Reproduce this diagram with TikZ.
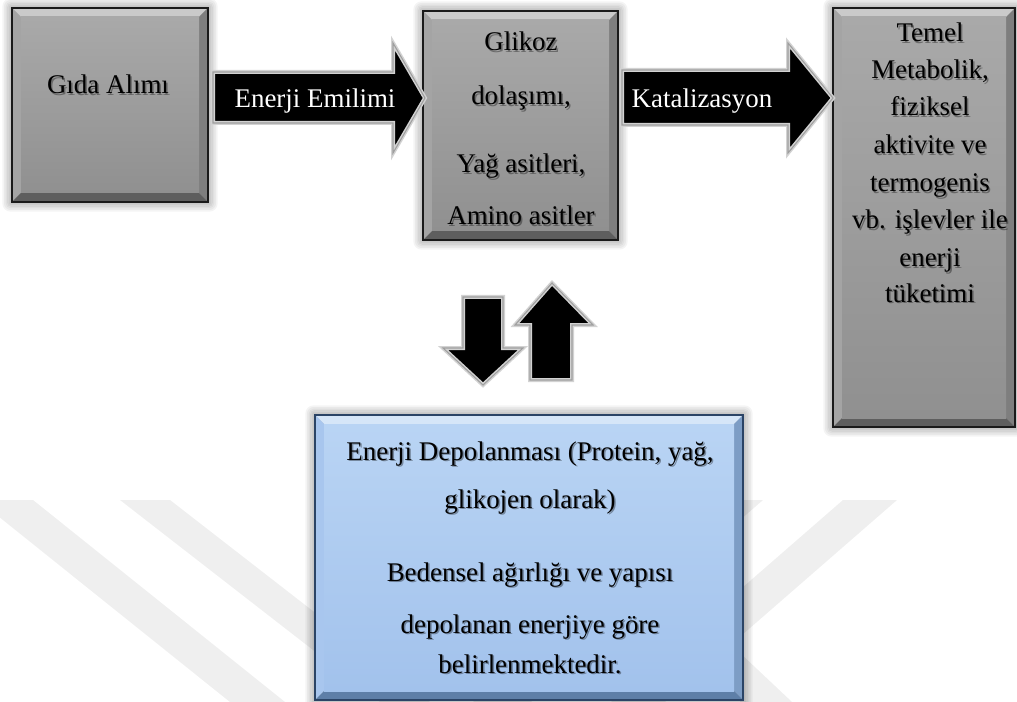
\documentclass[tikz,border=0pt]{standalone}
\usepackage{fontspec}
\setmainfont{Liberation Serif}
\usetikzlibrary{calc}
\definecolor{wm}{HTML}{EFEFEF}
% gray box colours
\definecolor{gtop}{HTML}{A9A9A9}\definecolor{gbot}{HTML}{909090}
\definecolor{glt}{HTML}{CACACA}\definecolor{glf}{HTML}{A4A4A4}
\definecolor{grt}{HTML}{7E7E7E}\definecolor{gdk}{HTML}{5E5E5E}
\definecolor{gbd}{HTML}{1A1A1A}
% blue box colours
\definecolor{btop}{HTML}{B9D4F4}\definecolor{bbot}{HTML}{A2C2EC}
\definecolor{blt}{HTML}{D6E6F8}\definecolor{blf}{HTML}{A8C6EE}
\definecolor{brt}{HTML}{7D9DC5}\definecolor{bdk}{HTML}{5E7FA8}
\definecolor{bbd}{HTML}{2B4466}
\newcommand\bevbox[5]{%
  \foreach \k in {1,...,6}{%
    \fill[black,opacity=0.045,rounded corners=\k pt] ({#1-1.6*\k},{#2-1.6*\k}) rectangle ({#3+1.6*\k},{#4+1.6*\k});}
  \fill[#5lt] (#1,#2) -- (#3,#2) -- ({#3-9},{#2+9}) -- ({#1+9},{#2+9}) -- cycle;
  \fill[#5lf] (#1,#2) -- ({#1+9},{#2+9}) -- ({#1+9},{#4-9}) -- (#1,#4) -- cycle;
  \fill[#5rt] (#3,#2) -- (#3,#4) -- ({#3-9},{#4-9}) -- ({#3-9},{#2+9}) -- cycle;
  \fill[#5dk] (#1,#4) -- (#3,#4) -- ({#3-9},{#4-9}) -- ({#1+9},{#4-9}) -- cycle;
  \shade[top color=#5top,bottom color=#5bot] ({#1+9},{#2+9}) rectangle ({#3-9},{#4-9});
  \draw[#5bd,line width=1.6pt] (#1,#2) rectangle (#3,#4);
}
\tikzset{
  lbl/.style={font=\fontsize{20.2}{24}\selectfont,inner sep=0pt,anchor=base},
  wlbl/.style={lbl,text=white},
  shlbl/.style={lbl,text=black,opacity=0.35},
  blockarrow/.style={fill=black,draw=gray!35,line width=3pt,line join=miter},
  arrowedge/.style={draw=gray!75,line width=0.8pt,line join=miter},
}
% text with a soft shadow: name, x, y, text
\newcommand\tx[4]{%
  \node[shlbl] (#1s) at ({#2+1.5},{#3+1.5}) {#4};
  \node[lbl] (#1) at (#2,#3) {#4};
}
\begin{document}
\begin{tikzpicture}[x=0.75pt,y=-0.75pt]
\useasboundingbox (0,0) rectangle (1017,702);
% watermark
\begin{scope}
\clip (0,0) rectangle (1017,702);
\fill[wm] (-22,500) -- (33,500) -- (285,702) -- (230,702) -- cycle;
\fill[wm] (120,500) -- (170,500) -- (430,702) -- (380,702) -- cycle;
\fill[wm] (705,500) -- (763,500) -- (531,702) -- (473,702) -- cycle;
\fill[wm] (843,500) -- (897,500) -- (665,702) -- (611,702) -- cycle;
\fill[wm] (740,653) -- (792,702) -- (740,702) -- cycle;
\end{scope}
% boxes
\bevbox{12}{8}{208}{202}{g}
\bevbox{423}{11}{618}{240}{g}
\bevbox{833}{8}{1015}{427}{g}
\bevbox{315}{415}{743}{700}{b}
\node[inner sep=0pt,minimum width=196*0.75pt,minimum height=194*0.75pt] (gida) at (110,105) {};
\node[inner sep=0pt,minimum width=195*0.75pt,minimum height=229*0.75pt] (glikoz) at (520.5,125.5) {};
\node[inner sep=0pt,minimum width=182*0.75pt,minimum height=419*0.75pt] (temel) at (924,217.5) {};
\node[inner sep=0pt,minimum width=428*0.75pt,minimum height=285*0.75pt] (depo) at (529,557.5) {};
% horizontal block arrows
\path[blockarrow] (213,72) -- (393,72) -- (393,43) -- (425,98) -- (393,153) -- (393,123) -- (213,123) -- cycle;
\path[arrowedge] (213,72) -- (393,72) -- (393,43) -- (425,98) -- (393,153) -- (393,123) -- (213,123) -- cycle;
\path[blockarrow] (622,70) -- (788,70) -- (788,43) -- (833,98) -- (788,153) -- (788,125) -- (622,125) -- cycle;
\path[arrowedge] (622,70) -- (788,70) -- (788,43) -- (833,98) -- (788,153) -- (788,125) -- (622,125) -- cycle;
% vertical block arrows
\path[blockarrow] (463,297) -- (503,297) -- (503,348) -- (523,348) -- (483,385) -- (443,348) -- (463,348) -- cycle;
\path[arrowedge] (463,297) -- (503,297) -- (503,348) -- (523,348) -- (483,385) -- (443,348) -- (463,348) -- cycle;
\path[blockarrow] (530,380) -- (572,380) -- (572,325) -- (593,325) -- (552,283) -- (515,325) -- (530,325) -- cycle;
\path[arrowedge] (530,380) -- (572,380) -- (572,325) -- (593,325) -- (552,283) -- (515,325) -- (530,325) -- cycle;
% texts
\tx{t1}{108}{94}{Gıda Alımı}
\node[wlbl] (a1) at (315,108) {Enerji Emilimi};
\node[wlbl] (a2) at (702,108) {Katalizasyon};
\tx{g1}{521}{51}{Glikoz}
\tx{g2}{521}{105}{dolaşımı,}
\tx{g3}{521}{173}{Yağ asitleri,}
\tx{g4}{521}{225}{Amino asitler}
\tx{m1}{930}{42}{Temel}
\tx{m2}{930}{79}{Metabolik,}
\tx{m3}{930}{116}{fiziksel}
\tx{m4}{930}{154}{aktivite ve}
\tx{m5}{930}{192}{termogenis}
\tx{m6}{930}{229}{vb. işlevler ile}
\tx{m7}{930}{267}{enerji}
\tx{m8}{930}{302}{tüketimi}
\tx{d1}{530}{460}{Enerji Depolanması (Protein, yağ,}
\tx{d2}{530}{508}{glikojen olarak)}
\tx{d3}{530}{581}{Bedensel ağırlığı ve yapısı}
\tx{d4}{530}{633}{depolanan enerjiye göre}
\tx{d5}{530}{673}{belirlenmektedir.}
\end{tikzpicture}
\end{document}
